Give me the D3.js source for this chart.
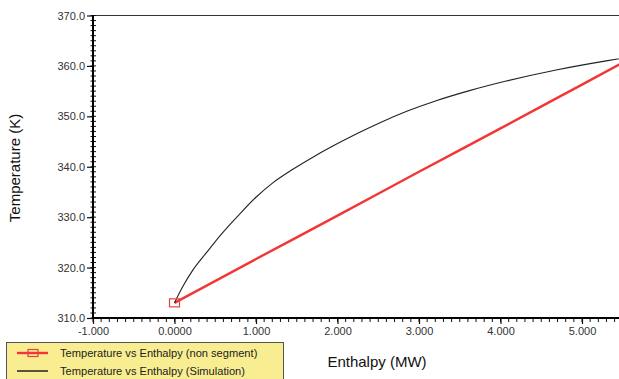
<!DOCTYPE html>
<html>
<head>
<meta charset="utf-8">
<script src="https://cdn.jsdelivr.net/npm/d3@7"></script>
<style>
  html, body { margin: 0; padding: 0; background: #fff; overflow: hidden; }
  svg { display: block; font-family: "Liberation Sans", Arial, sans-serif; }
  .tick-label { font-size: 11px; fill: #333; }
  .axis-title { font-size: 15px; fill: #111; }
  .legend-text { font-size: 11.1px; fill: #222; }
</style>
</head>
<body>
<svg id="chart" width="619" height="379"></svg>
<script>
// Simulation curve (black)
const simEnthalpy = [0, 0.10, 0.225, 0.389, 0.573, 0.798, 1.003, 1.206, 1.452, 1.656, 1.942, 2.229, 2.515, 2.85, 3.211, 3.62, 4.07, 4.683, 5.297, 5.60];
const simTemp     = [313.0, 316.2, 319.5, 322.9, 326.6, 330.6, 334.0, 336.8, 339.5, 341.5, 344.1, 346.5, 348.7, 351.0, 353.1, 355.1, 357.0, 359.2, 361.0, 361.8];

// Non segment line (red)
const nsEnthalpy = [0, 1, 2, 3, 4, 5, 5.6];
const nsTemp     = [313.0, 321.7, 330.3, 339.0, 347.6, 356.3, 361.5];

// Axis ticks
const xTicks = [-1, 0, 1, 2, 3, 4, 5];
const xTickLabels = ["-1.000", "0.0000", "1.000", "2.000", "3.000", "4.000", "5.000"];
const yTicks = [310, 320, 330, 340, 350, 360, 370];
const yTickLabels = ["310.0", "320.0", "330.0", "340.0", "350.0", "360.0", "370.0"];

const legendLabels = ["Temperature vs Enthalpy (non segment)", "Temperature vs Enthalpy (Simulation)"];

const svg = d3.select("#chart");

// plot area runs past the right edge of the window (cropped like the reference)
const plotLeft = 93, plotTop = 15.5, plotBottom = 318;
const x = d3.scaleLinear().domain([-1, 6]).range([plotLeft, plotLeft + 7 * 81.5]);
const y = d3.scaleLinear().domain([310, 370]).range([plotBottom, plotTop]);

// top frame line
svg.append("line")
    .attr("x1", plotLeft).attr("x2", 619)
    .attr("y1", y(370)).attr("y2", y(370))
    .attr("stroke", "#333").attr("stroke-width", 1.2);

// minor ticks
const xMinor = d3.range(-10, 61).map(d => d / 10);
svg.append("g")
    .selectAll("line")
    .data(xMinor)
    .join("line")
    .attr("x1", d => x(d)).attr("x2", d => x(d))
    .attr("y1", plotBottom).attr("y2", plotBottom + 4)
    .attr("stroke", "#111").attr("stroke-width", 1);

const yMinor = d3.range(310, 371);
svg.append("g")
    .selectAll("line")
    .data(yMinor)
    .join("line")
    .attr("x1", plotLeft - 2.5).attr("x2", plotLeft + 3)
    .attr("y1", d => y(d)).attr("y2", d => y(d))
    .attr("stroke", "#111").attr("stroke-width", 1);

// major axes
const xAxis = svg.append("g")
    .attr("transform", `translate(0,${plotBottom})`)
    .call(d3.axisBottom(x)
        .tickValues(xTicks)
        .tickFormat((d, i) => xTickLabels[i])
        .tickSize(6)
        .tickPadding(3)
        .tickSizeOuter(0));
xAxis.select(".domain").remove();
xAxis.selectAll(".tick line").attr("stroke", "#111").attr("stroke-width", 1.2);
xAxis.selectAll(".tick text").attr("class", "tick-label");
xAxis.attr("font-family", null).attr("font-size", null);

const yAxis = svg.append("g")
    .attr("transform", `translate(${plotLeft},0)`)
    .call(d3.axisLeft(y)
        .tickValues(yTicks)
        .tickFormat((d, i) => yTickLabels[i])
        .tickSize(6)
        .tickPadding(2)
        .tickSizeOuter(0));
yAxis.select(".domain").remove();
yAxis.selectAll(".tick line").attr("stroke", "#111").attr("stroke-width", 1.2);
yAxis.selectAll(".tick text").attr("class", "tick-label");
yAxis.attr("font-family", null).attr("font-size", null);

// axis lines
svg.append("line")
    .attr("x1", plotLeft).attr("x2", 619)
    .attr("y1", plotBottom).attr("y2", plotBottom)
    .attr("stroke", "#000").attr("stroke-width", 2.2);
svg.append("line")
    .attr("x1", plotLeft).attr("x2", plotLeft)
    .attr("y1", y(370)).attr("y2", plotBottom + 1)
    .attr("stroke", "#000").attr("stroke-width", 2);

// series
const line = d3.line()
    .x(d => x(d[0]))
    .y(d => y(d[1]))
    .curve(d3.curveMonotoneX);

svg.append("path")
    .datum(nsEnthalpy.map((e, i) => [e, nsTemp[i]]))
    .attr("d", line)
    .attr("fill", "none")
    .attr("stroke", "#f23636")
    .attr("stroke-width", 2.4);

svg.append("path")
    .datum(simEnthalpy.map((e, i) => [e, simTemp[i]]))
    .attr("d", line)
    .attr("fill", "none")
    .attr("stroke", "#222")
    .attr("stroke-width", 1.1);

// marker on the first non segment point
svg.append("rect")
    .attr("x", x(nsEnthalpy[0]) - 5)
    .attr("y", y(nsTemp[0]) - 4)
    .attr("width", 10).attr("height", 8)
    .attr("fill", "none")
    .attr("stroke", "#e84040").attr("stroke-width", 1.2);

// axis titles
svg.append("text")
    .attr("class", "axis-title")
    .attr("x", 377).attr("y", 367)
    .attr("text-anchor", "middle")
    .text("Enthalpy (MW)");

svg.append("text")
    .attr("class", "axis-title")
    .attr("transform", "translate(20,168) rotate(-90)")
    .attr("text-anchor", "middle")
    .text("Temperature (K)");

// legend
const legend = svg.append("g");
legend.append("rect")
    .attr("x", 6.5).attr("y", 342.5)
    .attr("width", 277).attr("height", 50)
    .attr("fill", "#f8ee91")
    .attr("stroke", "#555").attr("stroke-width", 1);

legend.append("line")
    .attr("x1", 17).attr("x2", 48).attr("y1", 353).attr("y2", 353)
    .attr("stroke", "#f23636").attr("stroke-width", 2.4);
legend.append("rect")
    .attr("x", 28).attr("y", 349.5).attr("width", 10).attr("height", 7)
    .attr("fill", "none").attr("stroke", "#e84040").attr("stroke-width", 1.2);
legend.append("line")
    .attr("x1", 17).attr("x2", 48).attr("y1", 371).attr("y2", 371)
    .attr("stroke", "#111").attr("stroke-width", 1.4);

legend.selectAll("text")
    .data(legendLabels)
    .join("text")
    .attr("class", "legend-text")
    .attr("x", 60)
    .attr("y", (d, i) => 357 + i * 18)
    .text(d => d);
</script>
</body>
</html>
